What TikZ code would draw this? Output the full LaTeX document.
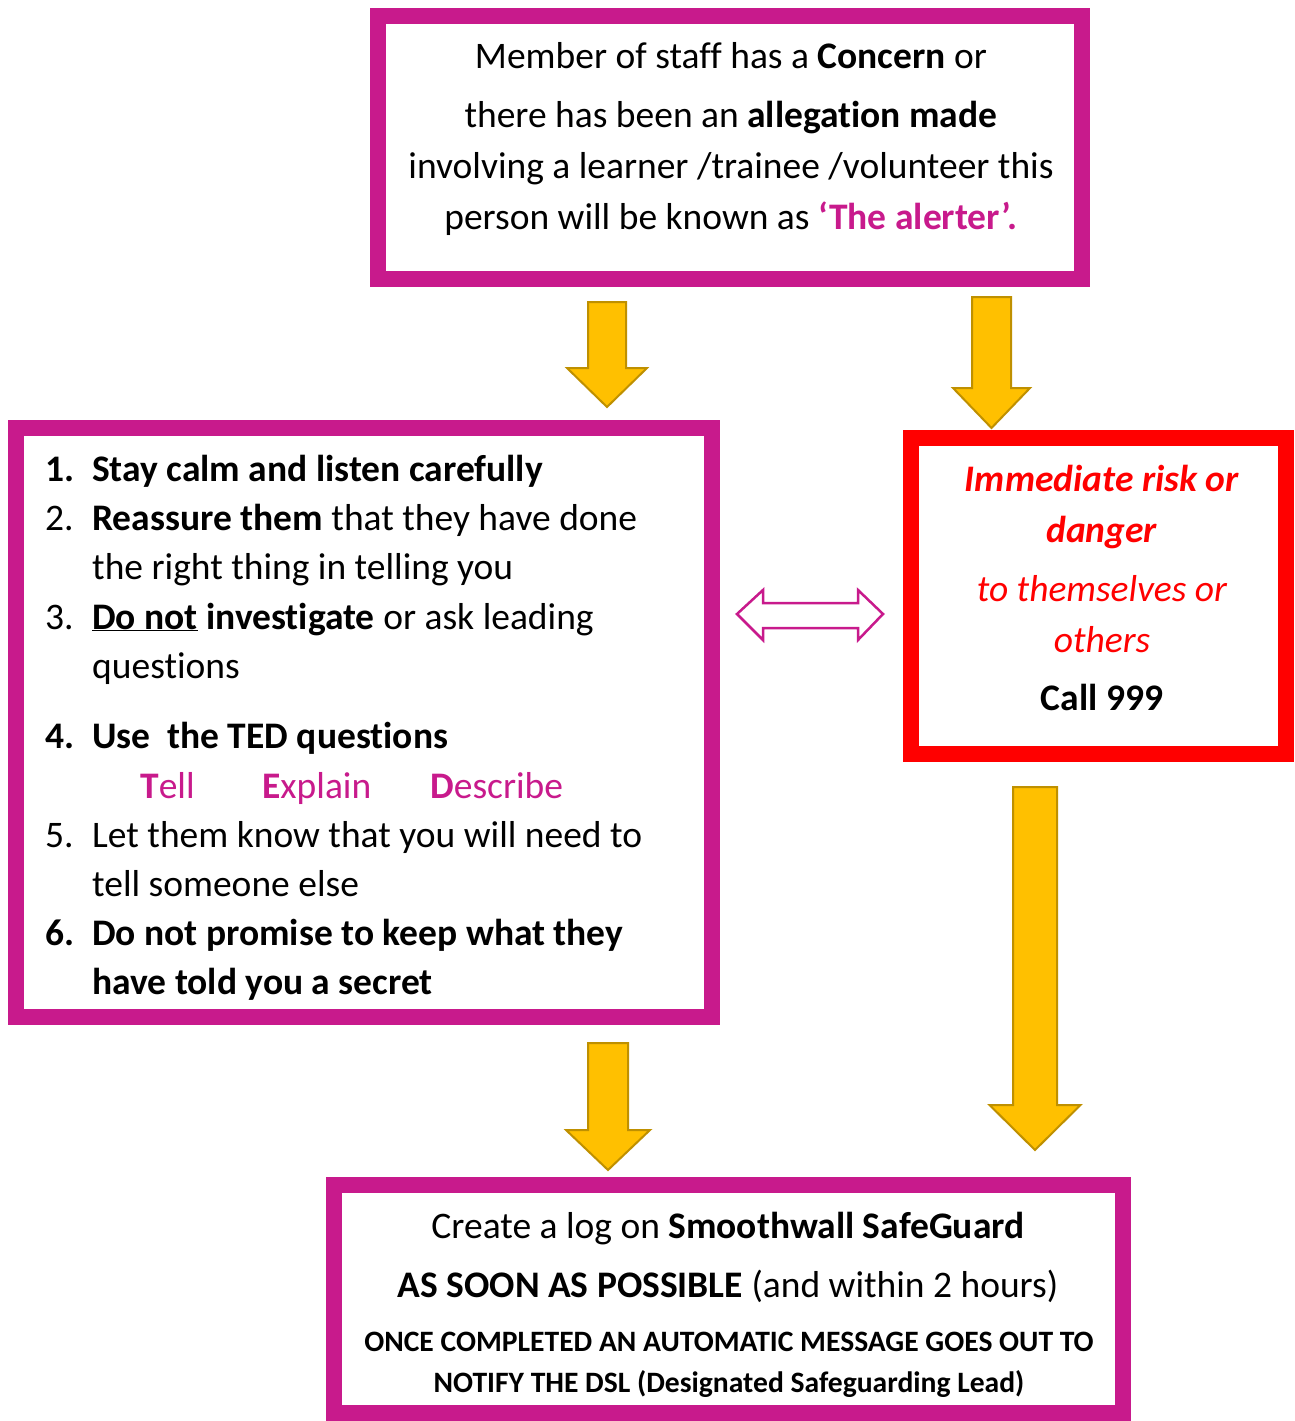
\documentclass[tikz,border=0pt]{standalone}
\usepackage{fontspec}
\setmainfont[Ligatures={NoCommon}]{Carlito}
\definecolor{mag}{RGB}{200,26,140}
\definecolor{gold}{RGB}{255,192,0}
\definecolor{golddark}{RGB}{191,144,0}
\definecolor{redc}{RGB}{255,0,0}
\tikzset{
  magbox/.style={draw=mag, line width=16pt},
  redframe/.style={draw=redc, line width=16pt},
  barrowstyle/.style={fill=gold, draw=golddark, line width=2pt, line join=miter},
  txt/.style={inner sep=0pt, font=\fontsize{37.5}{45}\selectfont},
  small/.style={inner sep=0pt, font=\fontsize{29.6}{35}\selectfont\bfseries},
}
\newcommand\barrow[6]{\draw[barrowstyle] (#1-#4,#2) -- (#1+#4,#2) -- (#1+#4,#6) -- (#1+#5,#6) -- (#1,#3) -- (#1-#5,#6) -- (#1-#4,#6) -- cycle;}
\begin{document}
\begin{tikzpicture}[x=1pt,y=-1pt]
\useasboundingbox[fill=white] (0,0) rectangle (1294,1421);
% boxes
\draw[magbox] (378,16) rectangle (1082,279);
\draw[magbox] (16,428) rectangle (712,1017);
\draw[redframe] (911,438) rectangle (1286,754);
\draw[magbox] (334,1185) rectangle (1123,1413);
% top text
\node[txt,anchor=base] (t1) at (731,68) {Member of staff has a \textbf{Concern} or};
\node[txt,anchor=base] (t2) at (731,127) {there has been an \textbf{allegation made}};
\node[txt,anchor=base] (t3) at (731,178) {involving a learner /trainee /volunteer this};
\node[txt,anchor=base] (t4) at (731,229) {person will be known as \textcolor{mag}{\textbf{‘The alerter’.}}};
% left list
\node[txt,anchor=base west] (n1) at (45,481) {\textbf{1.}};
\node[txt,anchor=base west] (l1) at (92,481) {\textbf{Stay calm and listen carefully}};
\node[txt,anchor=base west] (n2) at (45,530) {2.};
\node[txt,anchor=base west] (l2) at (92,530) {\textbf{Reassure them} that they have done};
\node[txt,anchor=base west] (l2b) at (92,579) {the right thing in telling you};
\node[txt,anchor=base west] (n3) at (45,629) {3.};
\node[txt,anchor=base west] (l3) at (92,629) {\underline{\textbf{Do not}} \textbf{investigate} or ask leading};
\node[txt,anchor=base west] (l3b) at (92,678) {questions};
\node[txt,anchor=base west] (n4) at (45,748) {\textbf{4.}};
\node[txt,anchor=base west] (l4) at (92,748) {\textbf{Use\ \ the TED questions}};
\node[txt,anchor=base west,text=mag] (ted1) at (140,798) {\textbf{T}ell};
\node[txt,anchor=base west,text=mag] (ted2) at (262,798) {\textbf{E}xplain};
\node[txt,anchor=base west,text=mag] (ted3) at (430,798) {\textbf{D}escribe};
\node[txt,anchor=base west] (n5) at (45,847) {5.};
\node[txt,anchor=base west] (l5) at (92,847) {Let them know that you will need to};
\node[txt,anchor=base west] (l5b) at (92,896) {tell someone else};
\node[txt,anchor=base west] (n6) at (45,945) {\textbf{6.}};
\node[txt,anchor=base west] (l6) at (92,945) {\textbf{Do not promise to keep what they}};
\node[txt,anchor=base west] (l6b) at (92,994) {\textbf{have told you a secret}};
% red box text
\node[txt,anchor=base,text=redc] (r1) at (1102,491) {\textbf{\itshape Immediate risk or}};
\node[txt,anchor=base,text=redc] (r2) at (1102,542) {\textbf{\itshape danger}};
\node[txt,anchor=base,text=redc] (r3) at (1102,601) {\itshape to themselves or};
\node[txt,anchor=base,text=redc] (r4) at (1102,652) {\itshape others};
\node[txt,anchor=base] (r5) at (1102,710) {\textbf{Call 999}};
% bottom text
\node[txt,anchor=base] (b1) at (728,1238) {Create a log on \textbf{Smoothwall SafeGuard}};
\node[txt,anchor=base] (b2) at (728,1297) {\textbf{AS SOON AS POSSIBLE} (and within 2 hours)};
\node[small,anchor=base] (b3) at (729,1351) {ONCE COMPLETED AN AUTOMATIC MESSAGE GOES OUT TO};
\node[small,anchor=base] (b4) at (729,1392) {NOTIFY THE DSL (Designated Safeguarding Lead)};
% block arrows
\barrow{607}{302}{407}{19}{40}{368}
\barrow{991.5}{297}{428}{19.5}{38.5}{388}
\barrow{608}{1043}{1170}{20}{42}{1130}
\barrow{1035}{787}{1150}{22}{45.5}{1105}
% double arrow
\draw[draw=mag, fill=white, line width=2.5pt, line join=miter]
  (737,614) -- (763,590) -- (763,603) -- (858,603) -- (858,590) -- (883,614)
  -- (858,640) -- (858,628) -- (763,628) -- (763,640) -- cycle;
\end{tikzpicture}
\end{document}
